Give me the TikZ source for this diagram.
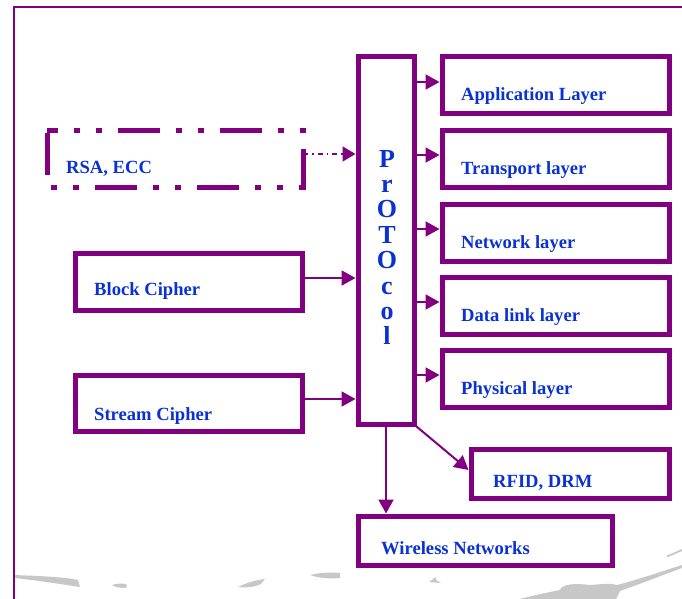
\documentclass[tikz,border=0pt]{standalone}
\usepackage{fontspec}
\setmainfont{Liberation Serif}
\usetikzlibrary{arrows.meta}
\definecolor{pp}{RGB}{128,0,128}
\definecolor{tb}{RGB}{10,50,210}
\begin{document}
\begin{tikzpicture}[x=1pt,y=-1pt,
  box/.style={draw=pp, line width=5pt, minimum width=#1, inner sep=0pt},
  lbl/.style={anchor=base west, inner sep=0pt, text=tb, font=\fontsize{18.6}{20}\selectfont\bfseries},
  plet/.style={anchor=base, inner sep=0pt, text=tb, font=\fontsize{26}{26}\selectfont\bfseries},
  conn/.style={draw=pp, line width=2pt, -{Triangle[length=14pt,width=15pt]}},
  smudge/.style={fill=black!22, draw=none}]
\useasboundingbox (0,0) rectangle (682,599);
\clip (0,0) rectangle (682,599);
\fill[white] (0,0) rectangle (682,599);
% background smudges
\fill[smudge] (14,575) .. controls (40,576) and (65,577) .. (78,580) -- (80,587) .. controls (60,584) and (35,580) .. (14,578) -- cycle;
\fill[smudge] (112,585) .. controls (118,583) and (125,583) .. (127,585) -- (126,588) .. controls (120,588) and (115,587) .. cycle;
\fill[smudge] (238,587) .. controls (246,583) and (256,580) .. (265,579) -- (261,584) .. controls (255,587) and (246,588) .. cycle;
\fill[smudge] (310,575) .. controls (318,573) and (330,572) .. (340,573) -- (340,578) .. controls (330,579) and (318,578) .. cycle;
\fill[smudge] (429,582) -- (436,577) -- (436,580) -- (441,583) -- cycle;
\fill[smudge] (520,599) .. controls (535,595) and (550,592) .. (560,590) .. controls (562,584) and (575,583) .. (590,585) .. controls (603,584) and (611,583) .. (617,585) .. controls (640,579) and (660,572) .. (682,565) -- (682,568) .. controls (660,576) and (640,584) .. (620,591) -- (616,599) -- cycle;
\fill[smudge] (666,556) -- (682,549) -- (682,551) -- (668,557) -- cycle;
% outer frame
\draw[pp, line width=2.5pt] (14,620) -- (14,7) -- (700,7);
% protocol box
\node[box=56pt, minimum height=367pt] (proto) at (386,240.5) {};
\foreach \ch [count=\i] in {P,r,O,T,O,c,o,l}
  \node[plet] (pl\i) at (387,{167+25.4*(\i-1)}) {\ch};
% right layer boxes
\node[box=227pt, minimum height=57pt] (app) at (555.5,85.5) {};
\node[box=227pt, minimum height=57pt] (trans) at (555.5,158.5) {};
\node[box=227pt, minimum height=57pt] (net) at (555.5,232.5) {};
\node[box=227pt, minimum height=57pt] (data) at (555.5,305.5) {};
\node[box=227pt, minimum height=57pt] (phys) at (555.5,378.5) {};
\node[lbl] (tapp) at (461,101) {Application Layer};
\node[lbl] (ttrans) at (461,174) {Transport layer};
\node[lbl] (tnet) at (461,248) {Network layer};
\node[lbl] (tdata) at (461,321) {Data link layer};
\node[lbl] (tphys) at (461,394) {Physical layer};
% left boxes
\coordinate (rsanw) at (47,130);
\coordinate (rsase) at (303,187);
\draw[pp, line width=5pt, line cap=butt, miter limit=10,
  dash pattern=on 42pt off 16pt on 6pt off 16pt on 6pt off 16pt, dash phase=31pt]
  (rsanw) -- (rsanw -| rsase) -- (rsase) -- (rsase -| rsanw) -- cycle;
\node[inner sep=0pt, minimum width=256pt, minimum height=57pt] (rsa) at (175,158.5) {};
\node[lbl] (trsa) at (66,173) {RSA, ECC};
\node[box=227pt, minimum height=57pt] (block) at (188.5,281.5) {};
\node[box=227pt, minimum height=56pt] (stream) at (188.5,403) {};
\node[lbl] (tblock) at (94,295) {Block Cipher};
\node[lbl] (tstream) at (94,420) {Stream Cipher};
% bottom boxes
\node[box=198pt, minimum height=49pt] (rfid) at (570,473.5) {};
\node[box=254pt, minimum height=49pt] (wire) at (485,540.5) {};
\node[lbl] (trfid) at (493,487) {RFID, DRM};
\node[lbl] (twire) at (381,554) {Wireless Networks};
% connectors right
\foreach \b in {app,trans,net,data,phys}{
  \path ([yshift=3.5pt]\b.west) coordinate (\b-in);
  \draw[conn] (proto.east |- \b-in) -- (\b-in);
}
% connectors left
\path ([yshift=3.5pt]block.east) coordinate (block-out);
\draw[conn] (block-out) -- (proto.west |- block-out);
\path ([yshift=4pt]stream.east) coordinate (stream-out);
\draw[conn] (stream-out) -- (proto.west |- stream-out);
\path ([yshift=4.5pt]rsa.east) coordinate (rsa-out);
\draw[draw=pp, line width=1.5pt, dash pattern=on 5pt off 4pt on 1.5pt off 4pt,
  -{Triangle[length=13pt,width=15pt]}] (rsa-out) -- (proto.west |- rsa-out);
% connectors bottom
\path ([yshift=3.5pt]rfid.west) coordinate (rfid-in);
\draw[conn] (proto.south east) -- (rfid-in);
\draw[conn] (proto.south) -- (proto.south |- wire.north);
\end{tikzpicture}
\end{document}
